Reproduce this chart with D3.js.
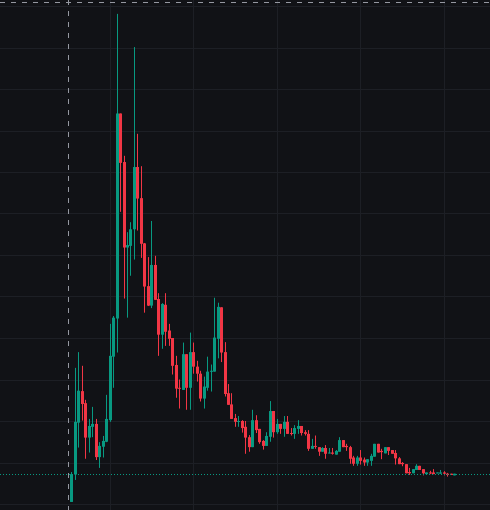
<!DOCTYPE html>
<html>
<head>
<meta charset="utf-8">
<script src="https://cdn.jsdelivr.net/npm/d3@7"></script>
<style>
  html, body { margin: 0; padding: 0; background: #111216; }
  svg { display: block; }
</style>
</head>
<body>
<div id="chart"></div>
<script>
// Candle data, in price units
const opens  = [0.5,7.1,19.6,27.2,24.3,16.0,18.6,19.3,11.3,13.8,15.0,20.2,35.5,44.7,94.1,82.4,61.8,62.2,66.2,81.2,73.7,62.8,52.5,47.8,57.6,49.4,40.8,48.0,41.8,40.0,33.5,28.0,27.5,36.1,28.0,36.6,33.1,31.4,25.4,28.0,31.9,31.9,39.8,47.4,36.6,26.7,24.0,20.7,19.8,20.0,18.6,16.1,13.7,20.2,18.1,15.2,14.0,16.2,22.4,17.3,19.3,18.1,19.8,17.1,16.9,18.1,18.8,17.3,16.9,13.3,14.0,13.7,12.6,13.5,12.2,12.4,11.9,12.6,15.4,14.0,13.7,11.2,9.7,11.2,10.7,10.0,10.4,11.4,14.5,12.8,12.2,13.7,13.0,12.3,11.0,9.9,9.6,7.7,7.4,8.2,9.2,8.4,7.2,7.6,7.6,7.4,7.3,7.6,7.3,7.3,6.9];
const highs  = [7.7,32.8,36.6,33.3,25.1,20.5,23.4,20.5,14.9,16.4,26.3,43.4,45.3,118.1,94.1,83.9,65.5,67.9,110.1,89.2,81.4,62.9,59.5,68.2,59.8,50.8,48.4,50.8,43.4,40.0,35.7,30.0,38.9,36.1,41.3,38.9,34.5,32.1,30.7,35.5,33.6,49.7,48.5,47.4,39.0,28.9,26.7,21.7,21.2,20.2,20.0,16.6,22.7,21.4,18.1,15.4,17.3,24.8,22.4,20.5,19.3,21.2,21.2,18.3,19.0,20.2,18.8,17.8,17.8,15.7,16.5,13.7,13.7,14.2,13.5,13.5,13.0,16.1,15.4,14.5,14.0,11.6,11.6,13.0,11.2,10.8,12.1,14.5,14.5,13.3,13.7,13.7,13.0,13.0,11.3,10.1,9.6,8.7,8.4,9.6,9.2,8.4,7.6,8.0,8.4,7.6,8.2,7.9,7.5,7.3,7.3];
const lows   = [0.5,5.8,13.6,20.1,10.9,12.4,16.1,10.6,8.7,11.2,14.9,19.8,28.0,36.5,70.4,49.5,44.9,55.0,58.9,65.9,59.3,46.1,47.7,47.2,49.2,35.7,37.4,38.1,38.1,31.2,25.6,23.0,27.5,22.7,22.7,31.4,29.5,24.7,23.0,27.3,27.1,31.9,35.1,34.2,25.9,23.9,20.5,18.6,18.6,17.2,12.1,12.6,13.7,17.1,14.5,13.1,14.0,15.0,16.0,16.9,16.9,16.2,16.9,16.5,15.7,16.9,16.5,16.5,12.8,13.3,13.3,11.6,12.6,10.9,12.2,11.9,11.9,12.6,13.7,12.8,9.7,9.2,9.2,9.5,9.2,9.2,9.2,11.4,12.4,10.8,12.2,11.8,12.1,9.5,9.6,9.1,7.4,7.0,7.4,8.2,8.2,6.9,7.2,7.2,7.2,7.4,7.3,6.9,6.6,7.0,6.9];
const closes = [7.2,19.8,27.3,24.1,16.0,18.8,19.3,11.3,14.0,15.2,20.5,35.7,44.9,94.1,82.2,61.8,62.4,66.2,81.2,73.6,62.7,52.4,47.8,57.6,49.2,40.8,48.2,41.5,39.8,33.3,27.8,27.8,36.1,28.0,36.6,33.1,31.4,25.4,28.3,31.9,32.1,40.1,47.5,36.5,26.5,23.9,20.5,19.8,20.0,18.3,16.0,13.7,20.2,17.8,14.9,14.0,16.4,22.4,17.3,19.3,18.1,19.8,16.9,16.9,18.3,18.8,17.1,16.9,13.3,14.0,13.8,12.6,13.5,12.1,12.4,12.1,12.8,15.4,13.7,13.7,10.9,9.7,11.2,10.4,10.0,10.8,11.6,14.5,12.4,12.5,13.7,12.8,12.1,11.0,9.6,9.6,7.4,7.4,8.4,9.2,8.2,7.4,7.6,7.4,7.2,7.6,7.6,7.3,7.0,7.0,7.3];

// Gridlines
const priceTicks = d3.range(0, 121, 10);
const timeTickIdx = [11, 35, 59, 83, 107];
const crosshairIdx = -1;
const crosshairPrice = 120.9;

const W = 490, H = 510;
const UP = "#089981", DOWN = "#F23645";

const n = closes.length;
const x = d3.scaleLinear().domain([0, n - 1]).range([71.3, 454.3]);
const y = d3.scaleLinear().domain([0, 120]).range([504, 6]);
const step = x(1) - x(0);
const bodyW = step * 0.8;

const svg = d3.select("#chart").append("svg").attr("width", W).attr("height", H);
svg.append("rect").attr("width", W).attr("height", H).attr("fill", "#111216");

const grid = svg.append("g").attr("stroke", "#1d1f25").attr("stroke-width", 1).attr("shape-rendering", "crispEdges");
grid.selectAll(".h").data(priceTicks).join("line")
  .attr("x1", 0).attr("x2", W)
  .attr("y1", d => Math.round(y(d)) + 0.5).attr("y2", d => Math.round(y(d)) + 0.5);
grid.selectAll(".v").data(timeTickIdx).join("line")
  .attr("y1", 0).attr("y2", H)
  .attr("x1", d => Math.round(x(d)) + 0.5).attr("x2", d => Math.round(x(d)) + 0.5);

const data = d3.range(n).map(i => ({ i, o: opens[i], h: highs[i], l: lows[i], c: closes[i] }));
const col = d => d.c >= d.o ? UP : DOWN;

const candles = svg.append("g");
candles.selectAll("line.wick").data(data).join("line")
  .attr("class", "wick")
  .attr("x1", d => Math.round(x(d.i)) + 0.5).attr("x2", d => Math.round(x(d.i)) + 0.5)
  .attr("y1", d => y(d.h)).attr("y2", d => y(d.l))
  .attr("stroke", col).attr("stroke-width", 1);
candles.selectAll("rect.body").data(data).join("rect")
  .attr("class", "body")
  .attr("x", d => Math.round(x(d.i)) - 1)
  .attr("width", 3)
  .attr("y", d => y(Math.max(d.o, d.c)))
  .attr("height", d => Math.max(1, Math.abs(y(d.o) - y(d.c))))
  .attr("fill", col);

// last price line (dotted)
const last = data[n - 1];
svg.append("line")
  .attr("x1", 0).attr("x2", W)
  .attr("y1", Math.round(y(last.c)) + 0.5).attr("y2", Math.round(y(last.c)) + 0.5)
  .attr("stroke", col(last)).attr("stroke-width", 1).attr("stroke-dasharray", "1,2");

// crosshair
const ch = svg.append("g").attr("stroke", "#9598a1").attr("stroke-width", 1).attr("stroke-dasharray", "5,6");
ch.append("line").attr("x1", Math.round(x(crosshairIdx)) + 0.5).attr("x2", Math.round(x(crosshairIdx)) + 0.5)
  .attr("y1", 0).attr("y2", H);
ch.append("line").attr("x1", 0).attr("x2", W)
  .attr("y1", Math.round(y(crosshairPrice)) + 0.5).attr("y2", Math.round(y(crosshairPrice)) + 0.5);
</script>
</body>
</html>
